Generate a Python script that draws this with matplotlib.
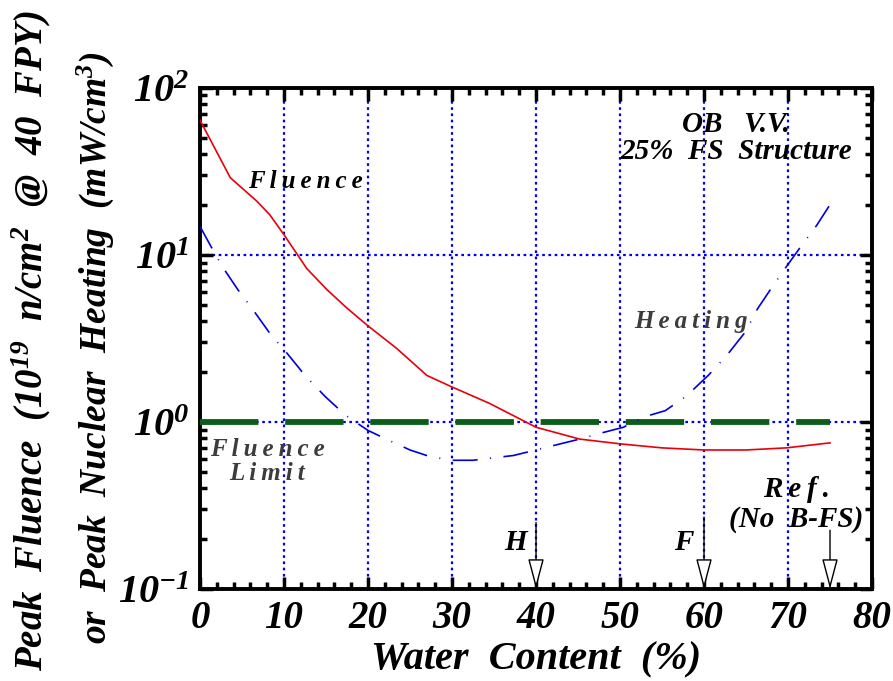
import numpy as np
import matplotlib
matplotlib.use("Agg")
import matplotlib.pyplot as plt
from matplotlib.ticker import FixedLocator, NullFormatter

# 字型設定
plt.rcParams['font.family'] = ['Liberation Serif', 'DejaVu Serif']
plt.rcParams['font.weight'] = 'bold'
plt.rcParams['font.style'] = 'italic'
plt.rcParams['axes.labelweight'] = 'bold'
plt.rcParams['mathtext.fontset'] = 'custom'
plt.rcParams['mathtext.rm'] = 'Liberation Serif:italic:bold'
plt.rcParams['mathtext.it'] = 'Liberation Serif:italic:bold'
plt.rcParams['mathtext.bf'] = 'Liberation Serif:italic:bold'

# 資料
fluence_x = [0, 3.6, 6.75, 8.3, 10, 12.7, 15.1, 17.5, 20, 23.4, 27, 30, 34.5, 40,
             45.2, 50, 55, 60, 65, 69.8, 75]
fluence_y = [64, 29, 21, 17.4, 13.2, 8.3, 6.2, 4.8, 3.76, 2.76, 1.9, 1.62, 1.29, 0.93,
             0.79, 0.74, 0.70, 0.68, 0.68, 0.70, 0.75]

heating_x = [0, 1.4, 2.8, 4.5, 6.3, 8.3, 10.3, 12.5, 14.9, 17.3, 20, 22.4, 25, 27.4,
             30.1, 32.5, 34.9, 37.3, 40, 42.9, 45.2, 47.8, 50.4, 52.8, 55.4, 57.9,
             60.5, 62.7, 65, 66.3, 67.9, 69.8, 71.4, 73.4, 75]
heating_y = [14.8, 11, 8.3, 6.2, 4.7, 3.4, 2.6, 1.9, 1.42, 1.1, 0.89, 0.78, 0.68, 0.62,
             0.59, 0.59, 0.61, 0.63, 0.68, 0.74, 0.79, 0.86, 0.93, 1.07, 1.17, 1.43,
             1.9, 2.5, 3.5, 4.7, 6.2, 8.5, 11, 15, 20]

limit_x = [0, 75]
limit_y = [1.0, 1.0]

x_ticks = [0, 10, 20, 30, 40, 50, 60, 70, 80]
y_ticks = [0.1, 1, 10, 100]
y_labels = [r'$10^{-1}$', r'$10^{0}$', r'$10^{1}$', r'$10^{2}$']

arrow_x = [40, 60, 75]
arrow_top = [0.25, 0.27, 0.225]
arrow_names = ['H', 'F', '']

fig = plt.figure(figsize=(8.93, 6.81), dpi=100)
ax = fig.add_axes([0.224, 0.135, 0.7525, 0.736])

ax.set_yscale('log')
ax.set_xlim(0, 80)
ax.set_ylim(0.1, 100)

# 格線
for gx in [10, 20, 30, 40, 50, 60, 70]:
    ax.axvline(gx, color='#0000ee', lw=1.6, ls=(0, (1.2, 1.6)), zorder=1)
for gy in [1, 10]:
    ax.axhline(gy, color='#0000ee', lw=1.6, ls=(0, (1.2, 1.6)), zorder=1)

ax.plot(limit_x, limit_y, color='#0b5e1a', lw=4.2, ls=(0, (10, 4.6)), zorder=3)
ax.plot(fluence_x, fluence_y, color='#e8000b', lw=1.2, zorder=4)
ax.plot(heating_x, heating_y, color='#0000dd', lw=1.2, ls=(0, (15, 7.5, 0.6, 7.5)),
        zorder=4)

# 箭頭
for xa, ya, name in zip(arrow_x, arrow_top, arrow_names):
    ax.annotate('', xy=(xa, 0.1), xytext=(xa, ya),
                arrowprops=dict(arrowstyle='-|>,head_length=1.9,head_width=0.5',
                                fc='white', ec='black', lw=1.0, shrinkA=0, shrinkB=0),
                zorder=5)
    if name:
        ax.text(xa - 2.4, 0.19, name, fontsize=21, ha='center', va='center',
                color='black')

# 文字
sp = '\u2009'
ax.text(12.5, 27.5, sp.join('Fluence'), fontsize=18, ha='center', va='center')
ax.text(8.0, 0.58, sp.join('Fluence') + '\n' + sp.join('Limit'), fontsize=18,
        ha='center', va='center', color='#3c3c3c', linespacing=1.05)
ax.text(63.8, 50, 'OB   V.V.\n25%  FS  Structure', fontsize=21, ha='center',
        va='center', linespacing=1.0)
ax.text(58.5, 3.98, sp.join('Heating'), fontsize=18, ha='center', va='center',
        color='#3c3c3c')
ax.text(71.0, 0.32, sp.join('Ref.') + '\n(No  B-FS)', fontsize=21, ha='center',
        va='center', linespacing=1.1)

# 刻度
ax.xaxis.set_major_locator(FixedLocator(x_ticks))
ax.xaxis.set_minor_locator(FixedLocator(np.arange(0, 81, 2)))
ax.set_xticklabels([str(t) for t in x_ticks], fontsize=28)
ax.yaxis.set_major_locator(FixedLocator(y_ticks))
minor_y = [m * 10.0 ** e for e in range(-1, 2) for m in range(2, 10)]
ax.yaxis.set_minor_locator(FixedLocator(minor_y))
ax.yaxis.set_minor_formatter(NullFormatter())
ax.set_yticklabels(y_labels, fontsize=29)

ax.tick_params(which='both', direction='in', top=True, right=True, width=2.5)
ax.tick_params(which='major', length=9, pad=8)
ax.tick_params(which='minor', length=5)
for s in ax.spines.values():
    s.set_linewidth(2.8)

ax.set_xlabel('Water  Content  (%)', fontsize=29, labelpad=3)

fig.text(0.035, 0.5, r'Peak  Fluence  (10$^{19}$  n/cm$^{2}$  @  40  FPY)', rotation=90,
         fontsize=28, ha='center', va='center')
fig.text(0.107, 0.49, r'or  Peak  Nuclear  Heating  (mW/cm$^{3}$)', rotation=90,
         fontsize=27, ha='center', va='center')

fig.savefig('out.png', dpi=100)
